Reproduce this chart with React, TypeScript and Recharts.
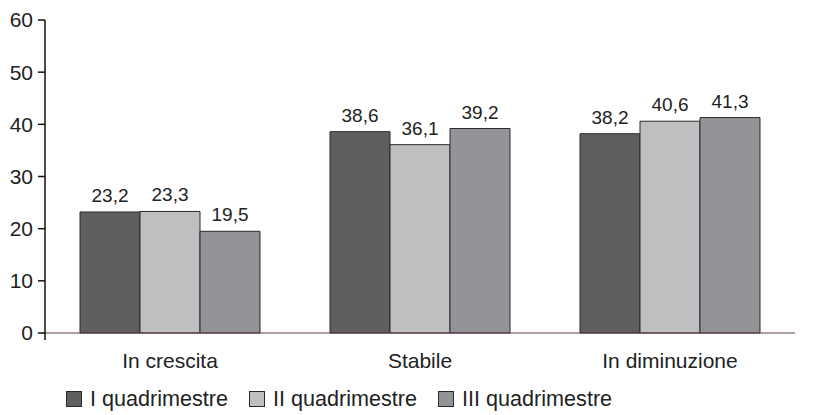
import { BarChart, Bar, XAxis, YAxis, LabelList } from "recharts";

const categories = ["In crescita", "Stabile", "In diminuzione"];
const seriesNames = ["I quadrimestre", "II quadrimestre", "III quadrimestre"];
const q1 = [23.2, 38.6, 38.2];
const q2 = [23.3, 36.1, 40.6];
const q3 = [19.5, 39.2, 41.3];
const yTicks = [0, 10, 20, 30, 40, 50, 60];

const colors = ["#5f5f61", "#bebfc1", "#929497"];
const FONT = "'Liberation Sans', Arial, sans-serif";

const data = categories.map((c, i) => ({ name: c, q1: q1[i], q2: q2[i], q3: q3[i] }));

const fmt = (v: any) => String(v).replace(".", ",");

const TICK_SIZE = 7;
const TICK_MARGIN = 5;

// y tick label; at 0 the axis line runs on a few px below the baseline
function YTick(props: any) {
  const { x, y, payload } = props;
  const axisX = x + TICK_SIZE + TICK_MARGIN;
  return (
    <g>
      <text x={x} y={y} dy="0.355em" textAnchor="end" fill="#222" fontSize={21} fontFamily={FONT}>
        {payload.value}
      </text>
      {payload.value === 0 && <line x1={axisX} y1={y} x2={axisX} y2={y + 7} stroke="#111" strokeWidth={1.5} />}
    </g>
  );
}

export default function App() {
  const keys = ["q1", "q2", "q3"];
  return (
    <div style={{ position: "absolute", left: 0, top: 0, width: 816, height: 415, background: "#fff", fontFamily: FONT }}>
      <BarChart
        width={816}
        height={415}
        data={data}
        margin={{ top: 20, right: 21, bottom: 42, left: 0 }}
        barCategoryGap={35}
        barGap={0}
      >
        <XAxis
          dataKey="name"
          axisLine={{ stroke: "#5a3d4c", strokeWidth: 1.2 }}
          tickLine={false}
          tick={{ fill: "#222", fontSize: 21, fontFamily: FONT }}
          height={40}
          tickMargin={14}
        />
        <YAxis
          domain={[0, 60]}
          ticks={yTicks}
          width={45}
          axisLine={{ stroke: "#111", strokeWidth: 1.5 }}
          tickLine={{ stroke: "#111", strokeWidth: 1.5 }}
          tickSize={TICK_SIZE}
          tickMargin={TICK_MARGIN}
          tick={<YTick />}
        />
        {keys.map((k, i) => (
          <Bar key={k} dataKey={k} fill={colors[i]} stroke="#2a2a2a" strokeWidth={1} isAnimationActive={false}>
            <LabelList dataKey={k} position="top" offset={10} formatter={fmt} style={{ fill: "#222", fontSize: 19, fontFamily: FONT }} />
          </Bar>
        ))}
      </BarChart>
      <div style={{ position: "absolute", left: 66, top: 386, display: "flex", alignItems: "center", fontSize: 21.6, color: "#222", whiteSpace: "nowrap" }}>
        {seriesNames.map((s, i) => (
          <div key={s} style={{ display: "flex", alignItems: "center", marginRight: 21 }}>
            <span style={{ display: "inline-block", width: 14, height: 14, background: colors[i], border: "1px solid #2a2a2a", marginRight: 8 }} />
            <span>{s}</span>
          </div>
        ))}
      </div>
    </div>
  );
}
